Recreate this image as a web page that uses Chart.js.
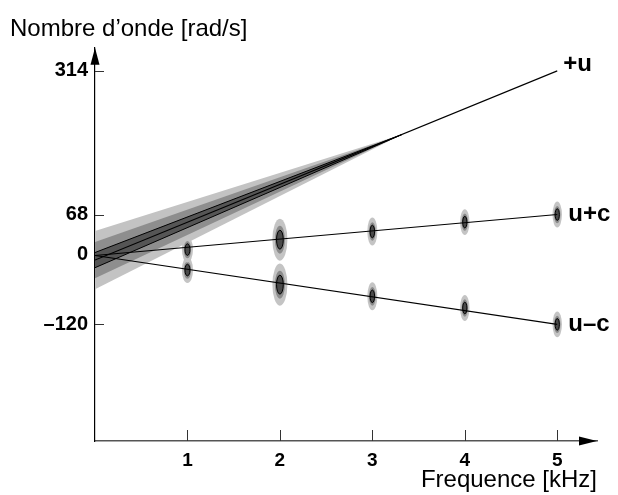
<!DOCTYPE html>
<html lang="fr">
<head>
<meta charset="utf-8">
<title>Nombre d'onde en fonction de la fréquence</title>
<script src="https://cdn.jsdelivr.net/npm/chart.js@4.4.1/dist/chart.umd.min.js"></script>
<style>
    html, body { margin: 0; padding: 0; background: #fff; }
    #graphe-container { width: 618px; height: 495px; }
</style>
</head>
<body>
<div id="graphe-container"><canvas id="graphe-onde"></canvas></div>
<script>
// Fréquences des mesures (kHz)
const frequences = [1, 2, 3, 4, 5];
// Nombre d'onde mesuré pour les deux modes (rad/s)
const ondePlusC = [8, 25, 39, 55, 68];
const ondeMoinsC = [-27, -52, -72, -92, -120];
// Écarts-types des mesures (ellipses d'erreur)
const sigmaOnde = [7.4, 12, 8, 7.4, 7.4];
const sigmaFreq = [0.02, 0.027, 0.018, 0.017, 0.017];

// Droites ajustées : valeurs à f = 0 et f = 5 kHz
const freqDroite = [0, 5];
const droitePlusU = [-10, 314];
const droitePlusC = [-2, 68];
const droiteMoinsC = [-2, -120];

// Cône d'incertitude de la droite +u (de f = 0 jusqu'au pivot)
const freqCone = [0, 3.32];
const centreCone = [-10, 205];
const demiLargeurCone = [50, 31, 13];

// Graduations et bornes des axes
const ticksFreq = [1, 2, 3, 4, 5];
const ticksOnde = [314, 68, 0, -120];
const bornesFreq = [0, 5.43];
const bornesOnde = [-319.7, 353.5];

const nomsCourbes = ['+u', 'u+c', 'u–c'];

const POLICE = "'Liberation Sans', Arial, Helvetica, sans-serif";
const grisCone = ['#c3c3c3', '#8e8e8e', '#555555'];
const grisEllipse = ['#c4c4c4', '#8a8a8a', '#4a4a4a'];
const niveauxSigma = [3, 2, 1.35];

function points(xs, ys) {
    return xs.map((x, i) => ({ x: x, y: ys[i] }));
}

function construireDatasets() {
    const datasets = [];

    // Bandes du cône, de la plus large à la plus fine
    demiLargeurCone.forEach((d, k) => {
        const bordNoir = k === demiLargeurCone.length - 1;
        const haut = [centreCone[0] + d, centreCone[1]];
        const bas = [centreCone[0] - d, centreCone[1]];
        datasets.push({
            data: points(freqCone, haut),
            borderColor: bordNoir ? '#000' : 'rgba(0,0,0,0)',
            borderWidth: bordNoir ? 1 : 0,
            backgroundColor: grisCone[k],
            fill: '+1',
            pointRadius: 0,
            order: 11 - 2 * k
        });
        datasets.push({
            data: points(freqCone, bas),
            borderColor: bordNoir ? '#000' : 'rgba(0,0,0,0)',
            borderWidth: bordNoir ? 1 : 0,
            fill: false,
            pointRadius: 0,
            order: 10 - 2 * k
        });
    });

    // Mesures (dessinées comme ellipses par le plugin)
    [ondePlusC, ondeMoinsC].forEach(serie => {
        datasets.push({
            data: points(frequences, serie),
            showLine: false,
            pointRadius: 0,
            ellipses: true,
            order: 3
        });
    });

    // Droites ajustées
    [droitePlusU, droitePlusC, droiteMoinsC].forEach((serie, i) => {
        datasets.push({
            data: points(freqDroite, serie),
            borderColor: '#000',
            borderWidth: 1.1,
            pointRadius: 0,
            fill: false,
            nom: nomsCourbes[i],
            order: 1
        });
    });

    return datasets;
}

// Ellipses d'erreur autour de chaque mesure
const ellipsesMesures = {
    id: 'ellipsesMesures',
    afterDatasetDraw(chart, args) {
        const ds = chart.data.datasets[args.index];
        if (!ds.ellipses) return;
        const { ctx, scales: { x, y } } = chart;
        ctx.save();
        args.meta.data.forEach((pt, i) => {
            const rx = Math.abs(x.getPixelForValue(frequences[i] + sigmaFreq[i]) - pt.x);
            const ry = Math.abs(y.getPixelForValue(ds.data[i].y + sigmaOnde[i]) - pt.y);
            niveauxSigma.forEach((n, k) => {
                ctx.beginPath();
                ctx.ellipse(pt.x, pt.y, rx * n, ry * n, 0, 0, Math.PI * 2);
                ctx.fillStyle = grisEllipse[k];
                ctx.fill();
                if (k === niveauxSigma.length - 1) {
                    ctx.strokeStyle = '#000';
                    ctx.lineWidth = 1;
                    ctx.stroke();
                }
            });
        });
        ctx.restore();
    }
};

// Graduations intérieures, flèches des axes et noms des courbes
const axesFleches = {
    id: 'axesFleches',
    beforeDatasetsDraw(chart) {
        const { ctx, chartArea: { left, bottom }, scales: { x, y } } = chart;
        ctx.save();
        ctx.strokeStyle = '#333';
        ctx.lineWidth = 1;
        ticksFreq.forEach(t => {
            const px = Math.round(x.getPixelForValue(t)) + 0.5;
            ctx.beginPath();
            ctx.moveTo(px, bottom);
            ctx.lineTo(px, bottom - 11);
            ctx.stroke();
        });
        ticksOnde.forEach(t => {
            const py = Math.round(y.getPixelForValue(t)) + 0.5;
            ctx.beginPath();
            ctx.moveTo(left, py);
            ctx.lineTo(left + 9, py);
            ctx.stroke();
        });
        ctx.restore();
    },
    afterDraw(chart) {
        const { ctx, chartArea: { left, right, top, bottom } } = chart;
        ctx.save();
        ctx.fillStyle = '#000';
        // flèche verticale
        ctx.beginPath();
        ctx.moveTo(left, top);
        ctx.lineTo(left - 4.5, top + 17);
        ctx.lineTo(left + 4.5, top + 17);
        ctx.closePath();
        ctx.fill();
        // flèche horizontale
        ctx.beginPath();
        ctx.moveTo(right, bottom);
        ctx.lineTo(right - 18, bottom - 4.5);
        ctx.lineTo(right - 18, bottom + 4.5);
        ctx.closePath();
        ctx.fill();

        // noms des courbes au bout des droites
        ctx.font = 'bold 24px ' + POLICE;
        ctx.textBaseline = 'middle';
        ctx.textAlign = 'left';
        chart.data.datasets.forEach((ds, i) => {
            if (!ds.nom) return;
            const meta = chart.getDatasetMeta(i);
            const fin = meta.data[meta.data.length - 1];
            const decalX = ds.nom === '+u' ? 6 : 11;
            const decalY = ds.nom === '+u' ? -6 : 0;
            ctx.fillText(ds.nom, fin.x + decalX, fin.y + decalY);
        });
        ctx.restore();
    }
};

function creerGraphe() {
    const ctx = document.getElementById('graphe-onde');
    new Chart(ctx, {
        type: 'line',
        data: { datasets: construireDatasets() },
        options: {
            responsive: true,
            maintainAspectRatio: false,
            animation: false,
            events: [],
            layout: { padding: { left: 10, right: 21, top: 0, bottom: 0 } },
            plugins: {
                legend: { display: false },
                tooltip: { enabled: false },
                title: {
                    display: true,
                    text: 'Nombre d’onde [rad/s]',
                    align: 'start',
                    color: '#000',
                    font: { family: POLICE, size: 24, weight: 'normal', lineHeight: 1.2 },
                    padding: { top: 15, bottom: 4 }
                }
            },
            scales: {
                x: {
                    type: 'linear',
                    min: bornesFreq[0],
                    max: bornesFreq[1],
                    afterBuildTicks: s => { s.ticks = ticksFreq.map(v => ({ value: v })); },
                    afterFit: s => { s.height = 54; },
                    grid: { display: false, drawTicks: false },
                    border: { display: true, color: '#555', width: 1.5 },
                    ticks: {
                        color: '#000',
                        padding: 8,
                        maxRotation: 0,
                        font: { family: POLICE, size: 19, weight: 'bold' }
                    },
                    title: {
                        display: true,
                        text: 'Frequence [kHz]',
                        align: 'end',
                        color: '#000',
                        font: { family: POLICE, size: 24, weight: 'normal', lineHeight: 1.2 },
                        padding: { top: 0, bottom: 0 }
                    }
                },
                y: {
                    type: 'linear',
                    min: bornesOnde[0],
                    max: bornesOnde[1],
                    afterBuildTicks: s => { s.ticks = ticksOnde.slice().sort((a, b) => a - b).map(v => ({ value: v })); },
                    afterFit: s => { s.width = 85; },
                    grid: { display: false, drawTicks: false },
                    border: { display: true, color: '#000', width: 1.2 },
                    ticks: {
                        color: '#000',
                        padding: 7,
                        font: { family: POLICE, size: 20, weight: 'bold' },
                        callback: v => (v < 0 ? '–' + Math.abs(v) : String(v))
                    }
                }
            }
        },
        plugins: [ellipsesMesures, axesFleches]
    });
}

document.addEventListener('DOMContentLoaded', creerGraphe);
</script>
</body>
</html>
